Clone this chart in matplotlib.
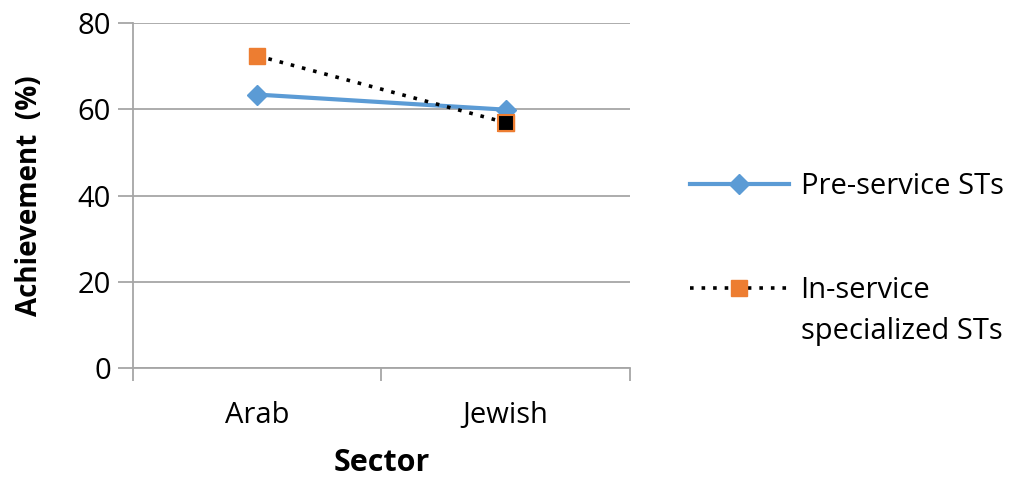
import matplotlib
matplotlib.use("Agg")
import matplotlib.pyplot as plt
from matplotlib.ticker import FixedLocator

sectors = ["Arab", "Jewish"]
pre_service = [63.4, 59.9]
in_service = [72.4, 56.9]
series_labels = ["Pre-service STs", "In-service"]
label_continuation = "specialized STs"
y_ticks = [0, 20, 40, 60, 80]

blue = "#5B9BD5"
orange = "#ED7D31"
grey = "#A6A6A6"

plt.rcParams["font.family"] = ["Open Sans", "DejaVu Sans"]
fs = 21

fig = plt.figure(figsize=(10.28, 4.79), dpi=100)
ax = fig.add_axes([0.1294, 0.2317, 0.4834, 0.7203])

x = [i + 0.5 for i in range(len(sectors))]

ax.plot(x, pre_service, color=blue, lw=3, marker="D", ms=10,
        mfc=blue, mec=blue, label=series_labels[0], zorder=3)
ax.plot(x, in_service, color="black", lw=2.6, ls=(0, (1, 2.2)),
        marker="s", ms=12, mfc=orange, mec=orange, label=series_labels[1],
        zorder=4)
# highlighted second point of the in-service series
ax.plot(x[1:], in_service[1:], ls="none", marker="s", ms=12,
        mfc="black", mec=orange, mew=1.5, zorder=5)

ax.set_xlim(0, len(sectors))
ax.set_ylim(0, 80)
ax.set_yticks(y_ticks)
ax.yaxis.grid(True, color=grey, lw=1.3)
ax.set_axisbelow(True)

ax.xaxis.set_major_locator(FixedLocator([0, 1, 2]))
ax.xaxis.set_minor_locator(FixedLocator(x))
ax.set_xticklabels([], minor=False)
ax.set_xticklabels(sectors, minor=True)
ax.tick_params(axis="x", which="minor", length=0, pad=24, labelsize=fs)
ax.tick_params(axis="x", which="major", length=9, width=1.3, color=grey)
ax.tick_params(axis="y", length=11, width=1.3, color=grey, labelsize=fs, pad=5)

for side in ("top", "right"):
    ax.spines[side].set_visible(False)
for side in ("left", "bottom"):
    ax.spines[side].set_color(grey)
    ax.spines[side].set_linewidth(1.3)

ax.set_xlabel("Sector", fontsize=22, fontweight="bold", labelpad=13)
ax.set_ylabel("Achievement  (%)", fontsize=20, fontweight="bold", labelpad=24)

handles, labels = ax.get_legend_handles_labels()
leg = fig.legend(handles, labels, loc="upper left", bbox_to_anchor=(0.671, 0.64),
                 frameon=False, fontsize=fs, handlelength=3.4, handletextpad=0.4,
                 labelspacing=2.55, numpoints=1, borderaxespad=0, borderpad=0)
fig.canvas.draw()
ax.annotate(label_continuation, xy=(0, 0), xycoords=leg.get_texts()[1],
            xytext=(0, -9), textcoords="offset points",
            ha="left", va="top", fontsize=fs, annotation_clip=False)

fig.savefig("out.png", dpi=100)
